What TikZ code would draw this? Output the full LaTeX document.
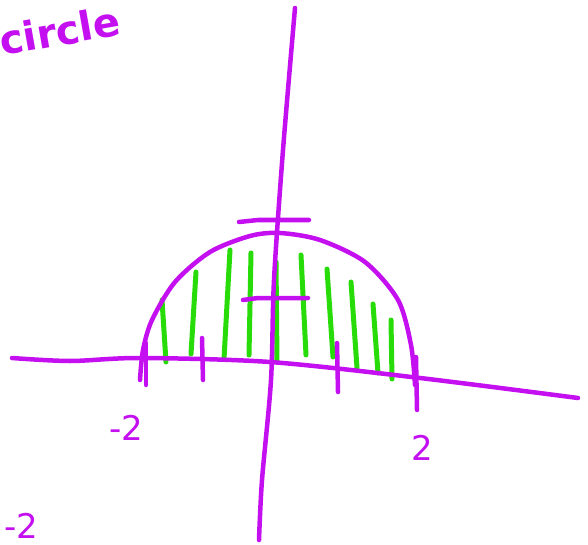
\documentclass[tikz,border=0pt]{standalone}
\usepackage{fontspec}
\setmainfont{DejaVu Sans}
\definecolor{pen}{RGB}{196,16,240}
\definecolor{marker}{RGB}{40,220,10}
\begin{document}
\begin{tikzpicture}[x=1pt,y=-1pt,
  penline/.style={draw=pen,line width=4.5pt,line cap=round,line join=round},
  greenline/.style={draw=marker,line width=5pt,line cap=round},
  handtext/.style={text=pen,font=\fontsize{34}{34}\selectfont,inner sep=0pt}]
\useasboundingbox (0,0) rectangle (588,545);
\clip (0,0) rectangle (588,545);
\fill[white] (0,0) rectangle (588,545);
% green hatching
\draw[greenline] (162,300) -- (166,362);
\draw[greenline] (196,272) -- (191,354);
\draw[greenline] (230,250) -- (224,359);
\draw[greenline] (251,253) -- (249,355);
\draw[greenline] (276,262) -- (277,362);
\draw[greenline] (301,255) -- (306,355);
\draw[greenline] (327,269) -- (333,357);
\draw[greenline] (351,282) -- (357,368);
\draw[greenline] (373,304) -- (378,373);
\draw[greenline] (391,320) -- (392,379);
% axes
\coordinate (vt) at (295,8);
\coordinate (vb) at (259,540);
\draw[penline] plot[smooth] coordinates {(vt) (283,150) (274,280) (271,380) (262,480) (vb)};
\coordinate (hl) at (12,358);
\coordinate (hr) at (578,398);
\draw[penline] plot[smooth] coordinates {(hl) (70,361) (140,358) (270,362) (420,378) (hr)};
% semicircle
\draw[penline] plot[smooth] coordinates {(140,380) (143,350) (152,320) (175,282) (210,252) (250,236) (280,233) (320,240) (365,262) (398,300) (411,345) (415,385)};
% y ticks
\draw[penline] (239,222) -- (258,220) -- (309,220);
\draw[penline] (243,300) -- (258,298) -- (308,298);
% x ticks
\draw[penline] (146,343) -- (146,385);
\draw[penline] (202,338) -- (203,380);
\draw[penline] (337,343) -- (338,392);
\draw[penline] (416,357) -- (417,410);
% labels
\node[handtext,font=\fontsize{40}{40}\selectfont\bfseries,rotate=10,anchor=base west] (circ) at (2,56) {circle};
\node[handtext,anchor=base] (m2) at (126,440) {-2};
\node[handtext,anchor=base] (p2) at (422,460) {2};
\node[handtext,anchor=base west] (m2b) at (4,538) {-2};
\end{tikzpicture}
\end{document}
